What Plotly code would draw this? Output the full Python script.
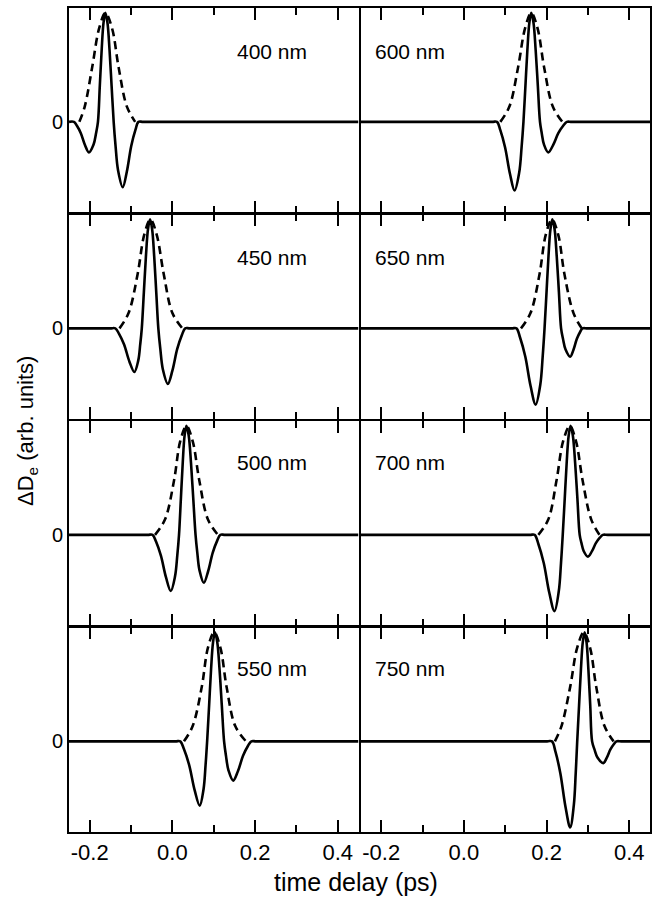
import plotly.graph_objects as go
from plotly.subplots import make_subplots

# ---------------- data ----------------
wavelength_labels = ["400 nm", "450 nm", "500 nm", "550 nm",
                     "600 nm", "650 nm", "700 nm", "750 nm"]

x_tick_vals = [-0.2, 0.0, 0.2, 0.4]
x_tick_text = ["-0.2", "0.0", "0.2", "0.4"]

# solid curves (x in ps, y in arb. units)
solid_x_400 = [-0.25, -0.238, -0.2312, -0.2214, -0.2114, -0.202, -0.1906, -0.1846, -0.180, -0.1755, -0.171, -0.1665, -0.162, -0.157, -0.152, -0.147, -0.142, -0.1374, -0.1314, -0.120, -0.1101, -0.0995, -0.0892, -0.082, -0.070, 0.45]
solid_y_400 = [0, 0, -0.034, -0.104, -0.213, -0.28, -0.207, -0.104, 0, 0.33, 0.66, 0.91, 1.0, 0.91, 0.66, 0.33, 0, -0.222, -0.444, -0.60, -0.456, -0.222, -0.072, 0, 0, 0]

solid_x_450 = [-0.25, -0.150, -0.138, -0.1293, -0.1168, -0.104, -0.092, -0.0826, -0.0778, -0.074, -0.069, -0.064, -0.059, -0.054, -0.049, -0.044, -0.039, -0.034, -0.0292, -0.023, -0.011, 0.000, 0.0117, 0.023, 0.031, 0.043, 0.45]
solid_y_450 = [0, 0, 0, -0.048, -0.148, -0.304, -0.40, -0.296, -0.148, 0, 0.33, 0.66, 0.91, 1.0, 0.91, 0.66, 0.33, 0, -0.189, -0.377, -0.51, -0.388, -0.189, -0.061, 0, 0, 0]

solid_x_500 = [-0.25, -0.060, -0.048, -0.0396, -0.0278, -0.0154, -0.004, 0.0064, 0.0118, 0.016, 0.0205, 0.025, 0.0295, 0.034, 0.0395, 0.045, 0.0505, 0.056, 0.0602, 0.0656, 0.076, 0.0864, 0.0976, 0.1084, 0.116, 0.128, 0.45]
solid_y_500 = [0, 0, 0, -0.062, -0.191, -0.391, -0.515, -0.381, -0.191, 0, 0.33, 0.66, 0.91, 1.0, 0.91, 0.66, 0.33, 0, -0.163, -0.326, -0.44, -0.334, -0.163, -0.053, 0, 0, 0]

solid_x_550 = [-0.25, 0.007, 0.019, 0.0279, 0.0406, 0.0538, 0.066, 0.0754, 0.0802, 0.084, 0.0888, 0.0935, 0.0983, 0.103, 0.1085, 0.114, 0.1195, 0.125, 0.1296, 0.1356, 0.147, 0.1584, 0.1708, 0.1826, 0.191, 0.203, 0.45]
solid_y_550 = [0, 0, 0, -0.071, -0.218, -0.448, -0.59, -0.437, -0.218, 0, 0.33, 0.66, 0.91, 1.0, 0.91, 0.66, 0.33, 0, -0.133, -0.266, -0.36, -0.274, -0.133, -0.043, 0, 0, 0]

solid_x_600 = [-0.25, 0.068, 0.080, 0.0881, 0.0995, 0.1115, 0.1225, 0.1337, 0.1395, 0.144, 0.1488, 0.1535, 0.1583, 0.163, 0.1683, 0.1735, 0.1788, 0.184, 0.1882, 0.1936, 0.204, 0.2157, 0.2283, 0.2405, 0.249, 0.261, 0.45]
solid_y_600 = [0, 0, 0, -0.076, -0.233, -0.479, -0.63, -0.466, -0.233, 0, 0.33, 0.66, 0.91, 1.0, 0.91, 0.66, 0.33, 0, -0.104, -0.207, -0.28, -0.213, -0.104, -0.034, 0, 0, 0]

solid_x_650 = [-0.25, 0.115, 0.127, 0.1358, 0.1484, 0.1614, 0.1735, 0.1847, 0.1905, 0.195, 0.1998, 0.2045, 0.2093, 0.214, 0.2193, 0.2245, 0.2298, 0.235, 0.2396, 0.2456, 0.257, 0.2648, 0.2732, 0.2813, 0.287, 0.299, 0.45]
solid_y_650 = [0, 0, 0, -0.084, -0.259, -0.532, -0.70, -0.518, -0.259, 0, 0.33, 0.66, 0.91, 1.0, 0.91, 0.66, 0.33, 0, -0.096, -0.192, -0.26, -0.198, -0.096, -0.031, 0, 0, 0]

solid_x_700 = [-0.25, 0.159, 0.171, 0.1801, 0.1931, 0.2065, 0.219, 0.2294, 0.2348, 0.239, 0.2438, 0.2485, 0.2533, 0.258, 0.2635, 0.269, 0.2745, 0.280, 0.2842, 0.2896, 0.300, 0.3094, 0.3194, 0.3292, 0.336, 0.348, 0.45]
solid_y_700 = [0, 0, 0, -0.084, -0.259, -0.532, -0.70, -0.518, -0.259, 0, 0.33, 0.66, 0.91, 1.0, 0.91, 0.66, 0.33, 0, -0.074, -0.148, -0.20, -0.152, -0.074, -0.024, 0, 0, 0]

solid_x_750 = [-0.25, 0.201, 0.213, 0.2214, 0.2332, 0.2456, 0.257, 0.2658, 0.2704, 0.274, 0.2785, 0.283, 0.2875, 0.292, 0.2965, 0.301, 0.3055, 0.310, 0.3157, 0.323, 0.337, 0.3453, 0.3543, 0.3629, 0.369, 0.381, 0.45]
solid_y_750 = [0, 0, 0, -0.095, -0.292, -0.600, -0.79, -0.585, -0.292, 0, 0.33, 0.66, 0.91, 1.0, 0.91, 0.66, 0.33, 0, -0.074, -0.148, -0.20, -0.152, -0.074, -0.024, 0, 0, 0]

# dashed curves
dash_y_profile = [0, 0.14, 0.5, 0.86, 1.0, 0.86, 0.5, 0.14, 0]
dash_x_400 = [-0.225, -0.212, -0.194, -0.177, -0.162, -0.146, -0.130, -0.110, -0.090]
dash_x_450 = [-0.128, -0.106, -0.084, -0.068, -0.053, -0.038, -0.021, 0.000, 0.024]
dash_x_500 = [-0.042, -0.018, 0.004, 0.019, 0.034, 0.049, 0.065, 0.086, 0.110]
dash_x_550 = [0.028, 0.049, 0.071, 0.086, 0.101, 0.116, 0.131, 0.152, 0.178]
dash_x_600 = [0.088, 0.110, 0.131, 0.148, 0.163, 0.178, 0.194, 0.215, 0.238]
dash_x_650 = [0.138, 0.161, 0.183, 0.198, 0.213, 0.228, 0.243, 0.265, 0.285]
dash_x_700 = [0.180, 0.204, 0.224, 0.240, 0.256, 0.271, 0.287, 0.308, 0.328]
dash_x_750 = [0.220, 0.236, 0.257, 0.274, 0.290, 0.305, 0.320, 0.340, 0.362]

solid_x = [solid_x_400, solid_x_450, solid_x_500, solid_x_550,
           solid_x_600, solid_x_650, solid_x_700, solid_x_750]
solid_y = [solid_y_400, solid_y_450, solid_y_500, solid_y_550,
           solid_y_600, solid_y_650, solid_y_700, solid_y_750]
dash_x = [dash_x_400, dash_x_450, dash_x_500, dash_x_550,
          dash_x_600, dash_x_650, dash_x_700, dash_x_750]

# ---------------- figure ----------------
W, H = 672, 912
ML, MR, MT, MB = 69, 22, 6, 80
FONT = "Liberation Sans, Arial, Helvetica, sans-serif"
LW = 2
pw = W - ML - MR
ph = H - MT - MB

fig = make_subplots(rows=4, cols=2, horizontal_spacing=LW / pw, vertical_spacing=LW / ph)

for i in range(8):
    col = 1 if i < 4 else 2
    row = i % 4 + 1
    fig.add_trace(go.Scatter(x=dash_x[i], y=dash_y_profile, mode="lines",
                             line=dict(color="black", width=2.6, dash="8px,5px", shape="spline", smoothing=1.0),
                             showlegend=False, hoverinfo="skip"), row=row, col=col)
    fig.add_trace(go.Scatter(x=solid_x[i], y=solid_y[i], mode="lines",
                             line=dict(color="black", width=2.6, shape="spline", smoothing=1.0),
                             showlegend=False, hoverinfo="skip"), row=row, col=col)

for row in range(1, 5):
    for col in (1, 2):
        fig.update_xaxes(row=row, col=col, range=[-0.25, 0.45],
                         showline=True, linecolor="black", linewidth=LW, mirror="allticks",
                         ticks="inside", ticklen=12, tickwidth=2, tickcolor="black",
                         tickvals=x_tick_vals, ticktext=x_tick_text,
                         minor=dict(dtick=0.1, tick0=0, ticks="inside", ticklen=7, tickwidth=2, tickcolor="black"),
                         showticklabels=(row == 4), showgrid=False, zeroline=False,
                         tickfont=dict(family=FONT, size=22, color="black"))
        fig.update_yaxes(row=row, col=col, range=[-0.832, 1.045],
                         showline=True, linecolor="black", linewidth=LW, mirror=True,
                         ticks="", tickvals=[0], ticktext=["0"],
                         showticklabels=(col == 1), showgrid=False, zeroline=False,
                         tickfont=dict(family=FONT, size=20, color="black"))

left_cx = (272 - ML) / pw
right_cx = (410 - ML) / pw
row_label_y = [50, 256, 462, 668]
annotations = []
for i, lab in enumerate(wavelength_labels):
    cx = left_cx if i < 4 else right_cx
    yy = (H - MB - row_label_y[i % 4]) / ph
    annotations.append(dict(text=lab, x=cx, y=yy, xref="paper", yref="paper",
                            xanchor="center", yanchor="middle", showarrow=False,
                            font=dict(family=FONT, size=21, color="black")))
annotations.append(dict(text="ΔD<sub>e</sub> (arb. units)", x=(27 - ML) / pw, y=(H - MB - 430) / ph,
                        xref="paper", yref="paper", xanchor="center", yanchor="middle",
                        textangle=-90, showarrow=False,
                        font=dict(family=FONT, size=22, color="black")))
annotations.append(dict(text="time delay (ps)", x=(356 - ML) / pw, y=(H - MB - 882) / ph,
                        xref="paper", yref="paper", xanchor="center", yanchor="middle",
                        showarrow=False, font=dict(family=FONT, size=25, color="black")))

fig.update_layout(width=W, height=H, margin=dict(l=ML, r=MR, t=MT, b=MB),
                  paper_bgcolor="white", plot_bgcolor="white",
                  annotations=annotations, showlegend=False)

fig.write_html("out.html", config={"displayModeBar": False},
               post_script="document.body.style.margin='0';")
